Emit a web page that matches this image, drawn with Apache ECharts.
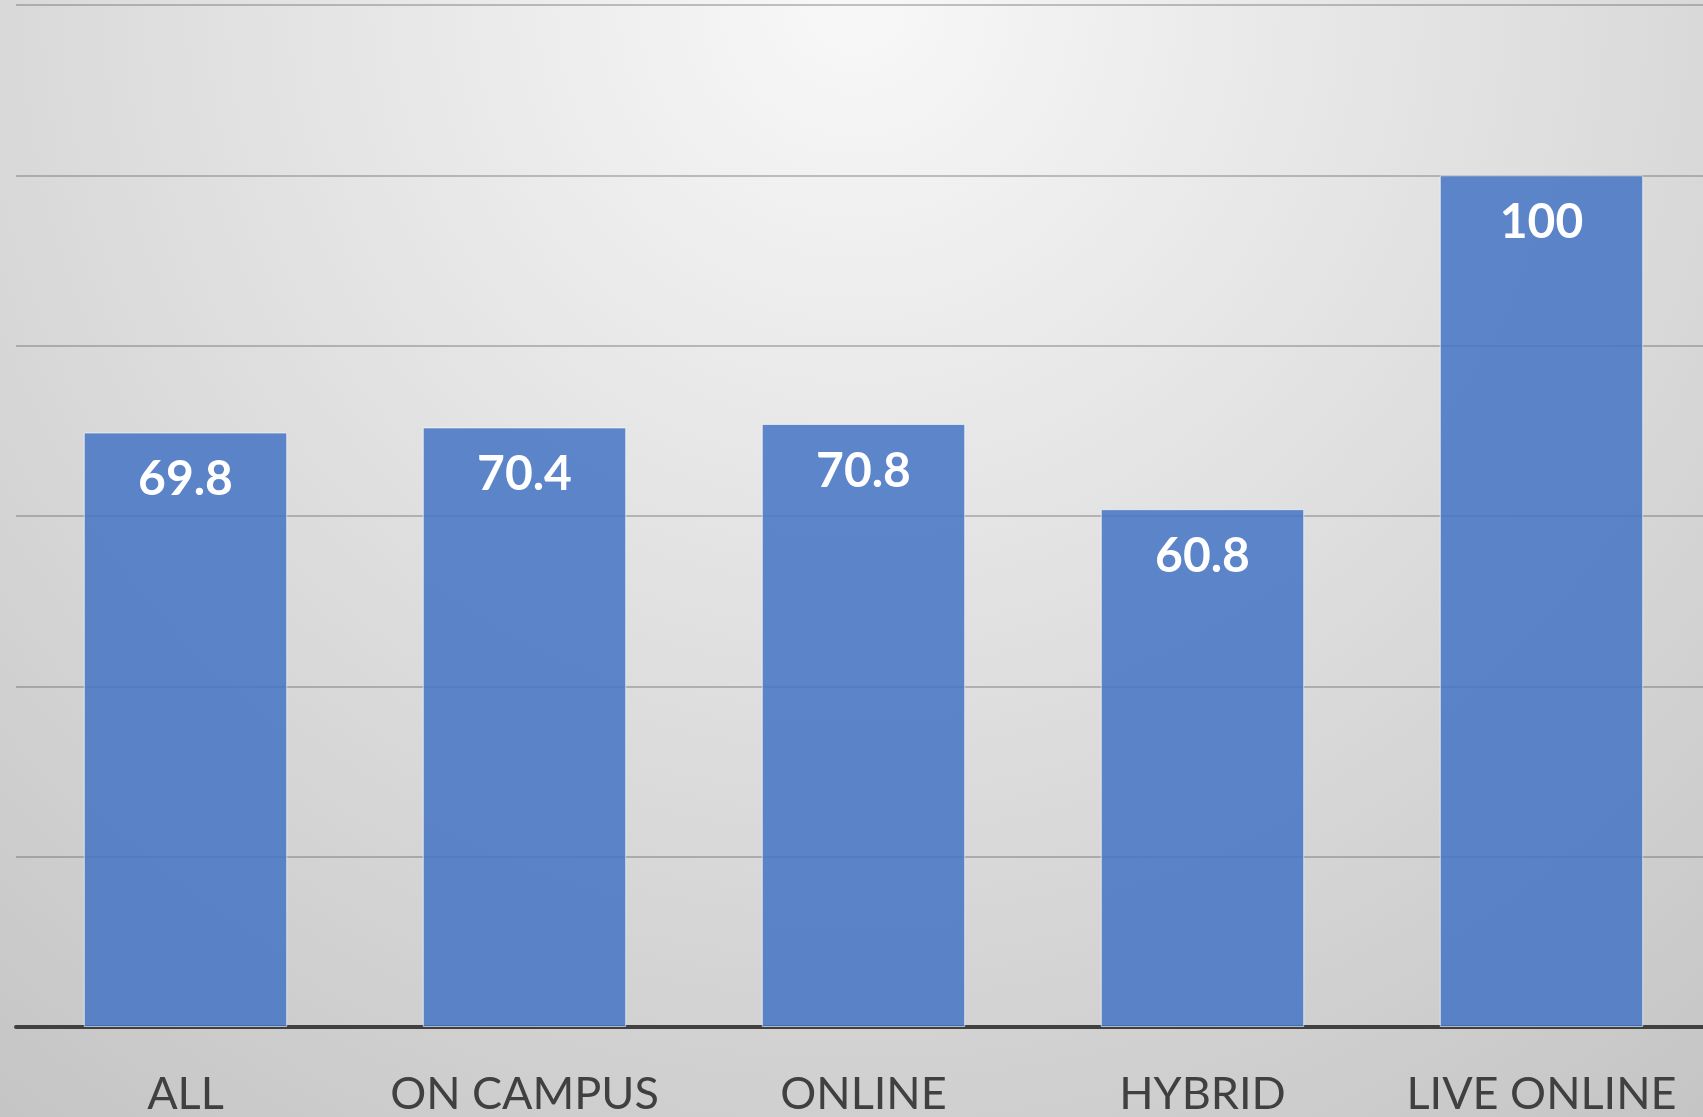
<!DOCTYPE html>
<html>
<head>
<meta charset="utf-8">
<script src="https://cdn.jsdelivr.net/npm/echarts@6/dist/echarts.min.js"></script>
<style>
  html, body { margin: 0; padding: 0; overflow: hidden; }
  #main { width: 1711px; height: 1117px; }
</style>
</head>
<body>
<div id="main"></div>
<script>
// 数据
var categories = ['ALL', 'ON CAMPUS', 'ONLINE', 'HYBRID', 'LIVE ONLINE'];
var values = [69.8, 70.4, 70.8, 60.8, 100];
var yMin = 0, yMax = 120, yStep = 20;

var chart = echarts.init(document.getElementById('main'));
var option = {
    animation: false,
    backgroundColor: {
        type: 'radial', x: 0.5, y: 0, r: 1.3,
        colorStops: [
            { offset: 0, color: '#f8f8f8' },
            { offset: 1, color: '#c3c3c3' }
        ]
    },
    grid: { left: 16, top: 5, right: 0, bottom: 87, containLabel: false },
    xAxis: {
        type: 'category',
        data: categories,
        axisTick: { show: false },
        axisLine: { lineStyle: { color: '#404040', width: 4 } },
        axisLabel: {
            interval: 0,
            color: '#404040',
            fontFamily: 'Lato',
            fontSize: 45,
            margin: 45
        }
    },
    yAxis: {
        type: 'value',
        min: yMin, max: yMax, interval: yStep,
        axisLabel: { show: false },
        axisLine: { show: false },
        axisTick: { show: false },
        splitLine: { lineStyle: { color: 'rgba(90,90,90,0.35)', width: 2 } }
    },
    series: [{
        type: 'bar',
        data: values,
        barWidth: '60%',
        itemStyle: {
            color: 'rgba(70,116,197,0.86)',
            borderColor: 'rgba(255,255,255,0.6)',
            borderWidth: 1
        },
        label: {
            show: true,
            position: 'insideTop',
            distance: 23,
            color: '#ffffff',
            fontFamily: 'Lato',
            fontWeight: 'bold',
            fontSize: 48
        }
    }]
};
chart.setOption(option);
</script>
</body>
</html>
